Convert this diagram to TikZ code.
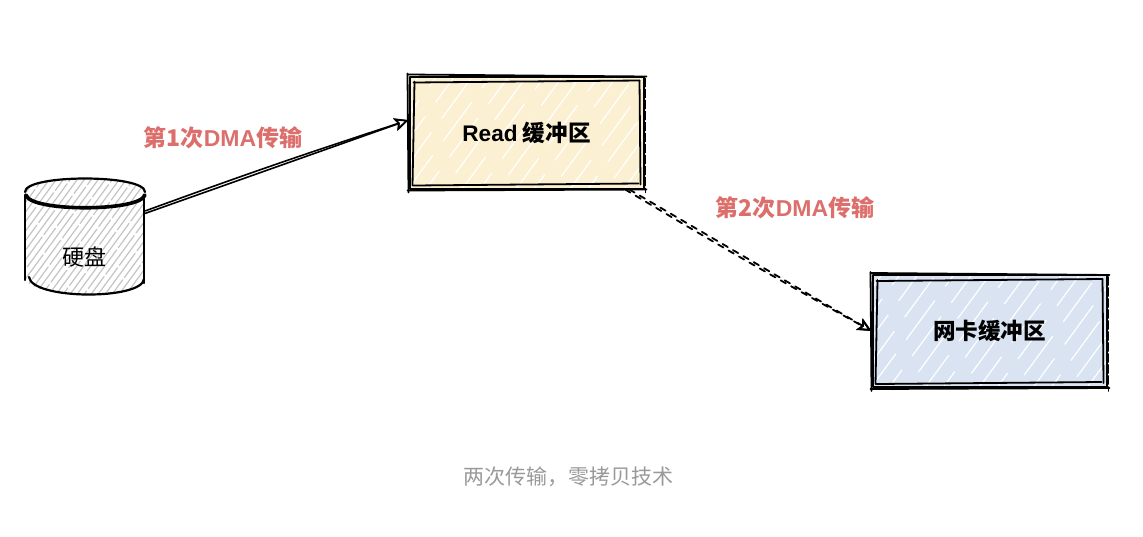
\documentclass[tikz,border=0pt]{standalone}
\usepackage{fontspec}
\usepackage{xcolor}
\setmainfont{Noto Sans CJK SC}
\newfontfamily\latinfont{Liberation Sans}
\usetikzlibrary{calc,positioning,arrows.meta}
\definecolor{readfill}{HTML}{FBF0D2}
\definecolor{netfill}{HTML}{D9E3F2}
\definecolor{hatchgray}{HTML}{C4C4C4}
\definecolor{dmared}{HTML}{DC6F6B}
\definecolor{muted}{HTML}{999999}
\tikzset{
  HatchFill/.style n args={3}{
    path picture={
      \foreach \hx in {-130,#3,...,300}{
        \pgfmathsetmacro{\hphase}{Mod(\hx*7,29)}
        \draw[#1, line width=0.6pt, dash pattern=on 24pt off #2pt, dash phase=\hphase pt]
          ($(path picture bounding box.south west)+(\hx,4)$) -- +(110,-150);
      }
    }
  },
  BufBox/.style={
    rectangle, draw=black, line width=1pt, inner sep=0pt,
    minimum width=117pt, minimum height=56pt,
    font=\bfseries\fontsize{11.3}{13}\selectfont
  },
  RoughLine/.style={black, line width=0.9pt, line cap=round},
  DmaLabel/.style={text=dmared, font=\bfseries\fontsize{11.5}{13}\selectfont, inner sep=0pt},
  DmaArrow/.style={black, line width=0.8pt, -{Stealth[open,length=7pt,width=6.5pt,inset=1.5pt]}}
}
% second pen stroke round a box
\newcommand{\RoughBox}[1]{%
  \draw[RoughLine] ($(#1.north west)+(-1,-1)$) -- ($(#1.north east)+(2,1)$);
  \draw[RoughLine] ($(#1.north west)+(5,7)$) -- ($(#1.north east)+(-5,5)$);
  \draw[RoughLine] ($(#1.south west)+(-1,1)$) -- ($(#1.south east)+(2,0)$);
  \draw[RoughLine] ($(#1.south west)+(5,-4)$) -- ($(#1.south east)+(-6,-6)$);
  \draw[RoughLine] ($(#1.north west)+(-1,-2)$) -- ($(#1.south west)+(0,3)$);
  \draw[RoughLine] ($(#1.north west)+(6,6)$) -- ($(#1.south west)+(4,-4)$);
  \draw[RoughLine] ($(#1.north east)+(-5,5)$) -- ($(#1.south east)+(-4,-5)$);
  \draw[RoughLine, dash pattern=on 4pt off 1.5pt] ($(#1.north east)+(1,3)$) -- ($(#1.south east)+(1,3)$);
}
\begin{document}
\begin{tikzpicture}[x=0.5pt, y=-0.5pt, line cap=round, line join=round]
  \useasboundingbox (0,0) rectangle (1143,536);

  % boxes
  \node[BufBox, fill=readfill, HatchFill={white}{9}{-112}] (readbuf) at (526.5,132.5) {{\latinfont Read} 缓冲区};
  \node[BufBox, fill=netfill, HatchFill={white}{9}{-112}] (netbuf) at (989.5,331) {网卡缓冲区};
  \RoughBox{readbuf}
  \RoughBox{netbuf}

  % disk
  \node[inner sep=0pt, minimum width=60pt, minimum height=58.5pt] (disk) at (85,236.5) {};
  \path[HatchFill={hatchgray}{1.5}{-123}] (25,192) .. controls (25,174) and (145,174) .. (145,192)
    -- (145,277) .. controls (145,300) and (25,300) .. (25,277) -- cycle;
  \draw[RoughLine, line width=1.1pt] (25,192) .. controls (25,174) and (145,174) .. (145,192);
  \draw[RoughLine, line width=1.8pt] (26,195) .. controls (30,212) and (140,212) .. (145,195);
  \draw[RoughLine, line width=1.1pt] (25,195) -- (25,280);
  \draw[RoughLine, line width=1.1pt] (144,195) -- (144,283);
  \draw[RoughLine, line width=1.1pt] (144,279) .. controls (142,300) and (32,300) .. (29,277);
  \node[font=\fontsize{11}{13}\selectfont, inner sep=0pt] (disklabel) at (84,257) {硬盘};

  % transfers
  \draw[DmaArrow] (disk.21) -- (readbuf.174);
  \draw[DmaArrow] (disk.23) to[bend left=1] (readbuf.174);
  \draw[DmaArrow, line width=0.9pt, dashed] (readbuf.-29) -- (netbuf.west);
  \draw[DmaArrow, line width=0.9pt, dashed] (readbuf.-30) to[bend right=1] (netbuf.west);

  % texts
  \node[DmaLabel] (firstdma) at (223,138) {第1次{\latinfont DMA}传输};
  \node[DmaLabel] (seconddma) at (795,208) {第2次{\latinfont DMA}传输};
  \node[text=muted, font=\fontsize{10.5}{13}\selectfont, inner sep=0pt] (caption) at (568,477) {两次传输，零拷贝技术};
\end{tikzpicture}
\end{document}
